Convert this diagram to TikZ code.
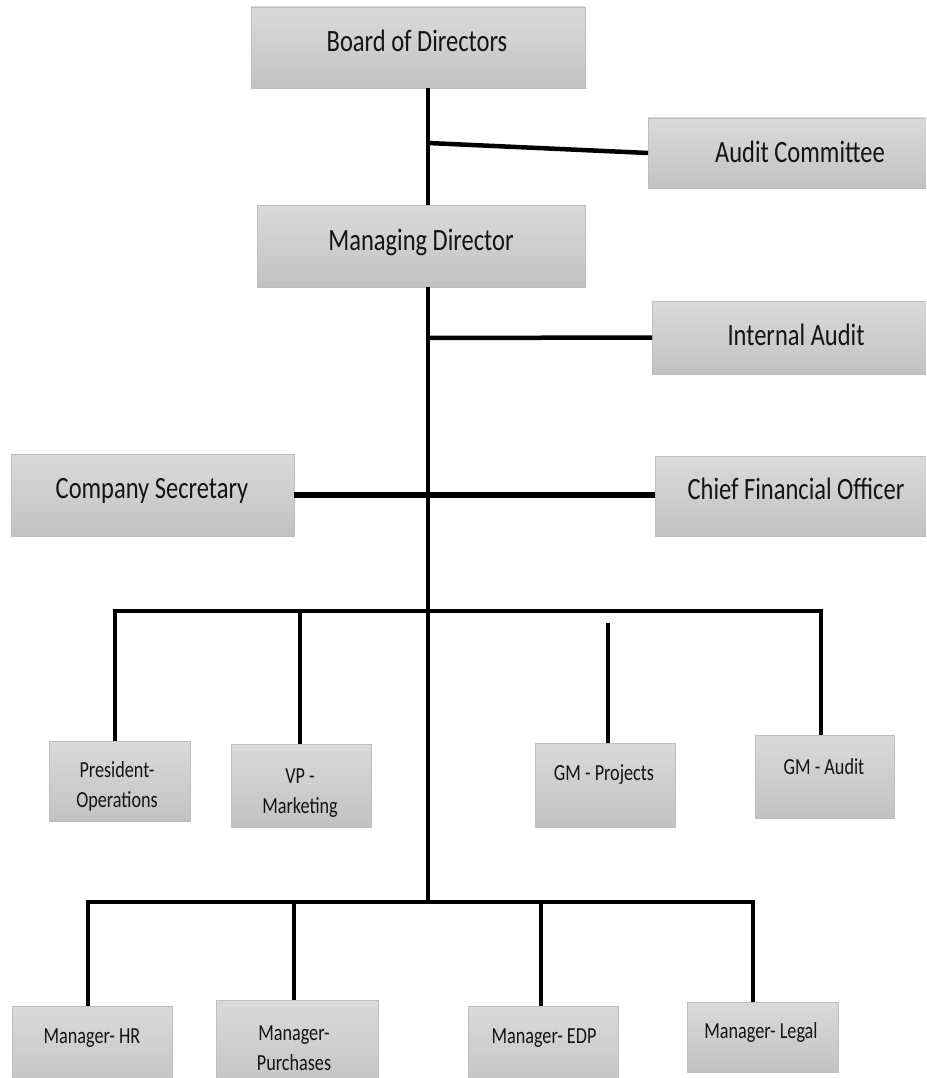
\documentclass[tikz,border=0pt]{standalone}
\usepackage{fontspec}
\setmainfont{Carlito}[FakeStretch=0.79]
\definecolor{boxtop}{HTML}{DADADA}
\definecolor{boxbot}{HTML}{C2C2C2}
\definecolor{boxedge}{HTML}{BEBEBE}
\definecolor{ink}{HTML}{141414}
\begin{document}
\begin{tikzpicture}[x=1pt,y=-1pt,
  box/.style={rectangle, draw=boxedge, line width=0.8pt, top color=boxtop,
    bottom color=boxbot, inner sep=0pt, outer sep=0pt},
  big/.style={anchor=base, inner sep=0pt, text=ink, font=\fontsize{31}{33}\selectfont},
  small/.style={anchor=base, inner sep=0pt, text=ink, align=center,
    font=\fontsize{23}{30}\selectfont},
  trunk/.style={line width=3.5pt, draw=black},
  link/.style={line width=4.5pt, draw=black},
  wide/.style={line width=5.5pt, draw=black},
]
\useasboundingbox (0,0) rectangle (926,1078);
\fill[white] (0,0) rectangle (926,1078);
\clip (0,0) rectangle (926,1078);

% ---- boxes ----
\node[box, minimum width=334, minimum height=81] (bod) at (418,47.5) {};
\node[box, minimum width=282, minimum height=70] (ac)  at (789,153) {};
\node[box, minimum width=328, minimum height=82] (md)  at (421,246) {};
\node[box, minimum width=278, minimum height=73] (ia)  at (791,337.5) {};
\node[box, minimum width=283, minimum height=82] (cs)  at (152.5,495) {};
\node[box, minimum width=275, minimum height=80] (cfo) at (792.5,496) {};
\node[box, minimum width=141, minimum height=80] (pres) at (119.5,781) {};
\node[box, minimum width=140, minimum height=83] (vp)  at (301,785.5) {};
\node[box, minimum width=140, minimum height=84] (gmp) at (605,785) {};
\node[box, minimum width=139, minimum height=83] (gma) at (824.5,776.5) {};
\node[box, minimum width=160, minimum height=90] (hr)  at (92,1051) {};
\node[box, minimum width=162, minimum height=96] (pur) at (297,1048) {};
\node[box, minimum width=150, minimum height=90] (edp) at (543,1051) {};
\node[box, minimum width=151, minimum height=70] (leg) at (762.5,1037) {};

% ---- labels (two-line labels sit on the baseline of their last line) ----
\node[big] (bodt) at (417,52) {Board of Directors};
\node[big] (act)  at (800,163) {Audit Committee};
\node[big] (mdt)  at (421,250) {Managing Director};
\node[big] (iat)  at (796,345) {Internal Audit};
\node[big] (cst)  at (152,498) {Company Secretary};
\node[big] (cfot) at (796,499) {Chief Financial Officer};
\node[small] (prest) at (117,807) {President-\\Operations};
\node[small] (vpt)   at (300,813) {VP -\\Marketing};
\node[small] (gmpt)  at (604,780) {GM - Projects};
\node[small] (gmat)  at (824,774) {GM - Audit};
\node[small] (hrt)   at (92,1043) {Manager- HR};
\node[small] (purt)  at (294,1070) {Manager-\\Purchases};
\node[small] (edpt)  at (544,1043) {Manager- EDP};
\node[small] (legt)  at (761,1038) {Manager- Legal};

% ---- junction points ----
\coordinate (jac)  at (428,143);
\coordinate (jia)  at (428,338);
\coordinate (b1l)  at (115,611);
\coordinate (b1r)  at (821,611);
\coordinate (gpt)  at (608,623);
\coordinate (b2l)  at (88,902);
\coordinate (b2r)  at (753,902);
\coordinate (tend) at (428,902);

% ---- connectors ----
\draw[trunk] (bod.south -| tend) -- (md.north -| tend);
\draw[trunk] (md.south -| tend) -- (tend);
\draw[link] (jac) -- (ac.west);
\draw[link] (jia) -- (ia.west);
\draw[wide] (cs.east) -- (cs.east -| cfo.west);

\draw[link] (b1l |- pres.north) -- (b1l) -- (b1r) -- (b1r |- gma.north);
\draw[link] (vp.north -| 300,0) -- (300,611);
\draw[link] (gpt) -- (gpt |- gmp.north);

\draw[link] (b2l |- hr.north) -- (b2l) -- (b2r) -- (b2r |- leg.north);
\draw[link] (pur.north -| 294,0) -- (294,902);
\draw[link] (edp.north -| 541,0) -- (541,902);
\end{tikzpicture}
\end{document}
